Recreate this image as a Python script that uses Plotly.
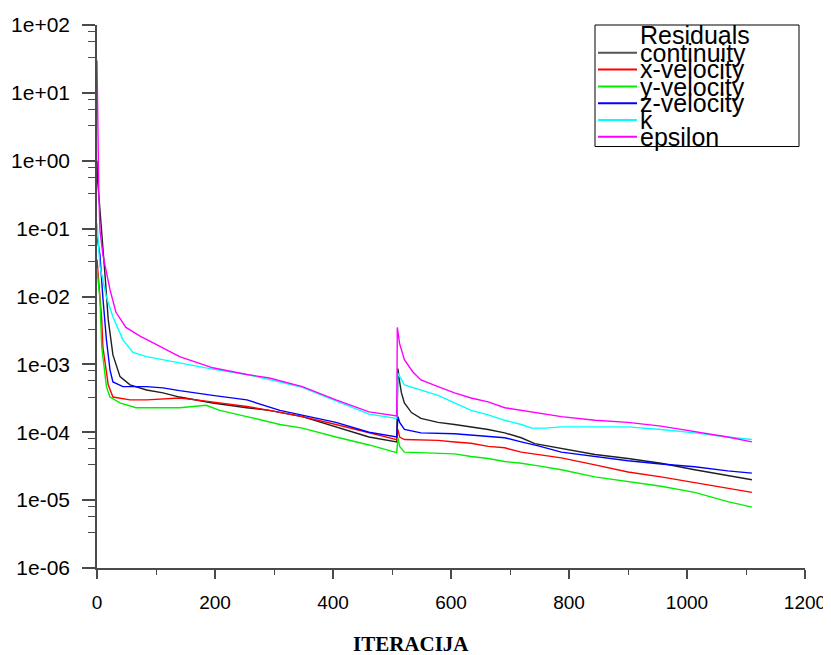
import plotly.graph_objects as go

# ---------------- data ----------------
series_names = ["continuity", "x-velocity", "y-velocity", "z-velocity", "k", "epsilon"]
series_colors = ["#202020", "#ff0000", "#00ee00", "#0000ff", "#00ffff", "#ff00ff"]

continuity_iter = [0, 1, 5, 8, 14, 19, 27, 39, 56, 84, 112, 140, 196, 254, 292, 348, 405, 461, 508,
                   510, 513, 516, 521, 533, 549, 578, 606, 634, 663, 691, 719, 742, 787, 844, 900,
                   956, 1013, 1069, 1110]
continuity_res = [1.0, 0.52, 0.19, 0.095, 0.0186, 0.0046, 1.38e-3, 6.6e-4, 5.0e-4, 4.2e-4, 3.8e-4,
                  3.3e-4, 2.7e-4, 2.3e-4, 2.1e-4, 1.7e-4, 1.2e-4, 8.5e-5, 7.2e-5,
                  8.7e-4, 5.5e-4, 3.8e-4, 2.7e-4, 1.95e-4, 1.6e-4, 1.4e-4, 1.3e-4, 1.2e-4, 1.1e-4,
                  9.8e-5, 8.3e-5, 6.8e-5, 5.8e-5, 4.7e-5, 4.1e-5, 3.5e-5, 2.8e-5, 2.3e-5, 2.0e-5]

xvel_iter = [0, 8, 10, 19, 27, 56, 84, 112, 140, 168, 196, 225, 254, 292, 348, 405, 461, 508,
             510, 513, 521, 578, 606, 634, 663, 691, 719, 748, 787, 844, 900, 956, 1013, 1069, 1110]
xvel_res = [3.5e-2, 4.6e-3, 1.8e-3, 5.0e-4, 3.3e-4, 3.0e-4, 3.0e-4, 3.1e-4, 3.2e-4, 3.0e-4, 2.8e-4,
            2.6e-4, 2.4e-4, 2.1e-4, 1.7e-4, 1.3e-4, 9.8e-5, 7.8e-5,
            1.1e-4, 8.5e-5, 7.8e-5, 7.6e-5, 7.2e-5, 6.9e-5, 6.2e-5, 5.9e-5, 5.1e-5, 4.7e-5, 4.2e-5,
            3.3e-5, 2.6e-5, 2.2e-5, 1.8e-5, 1.5e-5, 1.3e-5]

yvel_iter = [0, 5, 8, 16, 22, 39, 66, 84, 128, 140, 185, 208, 254, 310, 348, 405, 461, 508,
             510, 513, 521, 549, 606, 634, 663, 691, 719, 748, 787, 844, 900, 956, 1013, 1069, 1110]
yvel_res = [2.6e-2, 8.9e-3, 1.8e-3, 4.7e-4, 3.3e-4, 2.7e-4, 2.3e-4, 2.3e-4, 2.3e-4, 2.3e-4, 2.5e-4,
            2.1e-4, 1.7e-4, 1.3e-4, 1.15e-4, 8.5e-5, 6.5e-5, 5.0e-5,
            8.3e-5, 6.2e-5, 5.1e-5, 5.0e-5, 4.8e-5, 4.4e-5, 4.1e-5, 3.7e-5, 3.5e-5, 3.2e-5, 2.8e-5,
            2.2e-5, 1.9e-5, 1.6e-5, 1.3e-5, 9.5e-6, 7.9e-6]

zvel_iter = [0, 5, 10, 16, 22, 27, 44, 84, 112, 140, 196, 254, 310, 348, 405, 461, 508,
             510, 513, 521, 549, 606, 634, 663, 691, 719, 748, 787, 844, 900, 956, 1013, 1069, 1110]
zvel_res = [7.6e-2, 4.1e-2, 9.5e-3, 2.3e-3, 8.3e-4, 5.5e-4, 4.7e-4, 4.7e-4, 4.5e-4, 4.1e-4, 3.5e-4,
            3.0e-4, 2.1e-4, 1.8e-4, 1.4e-4, 1.0e-4, 8.5e-5,
            1.7e-4, 1.4e-4, 1.1e-4, 9.8e-5, 9.5e-5, 9.1e-5, 8.5e-5, 8.3e-5, 7.2e-5, 6.3e-5, 5.1e-5,
            4.4e-5, 3.8e-5, 3.4e-5, 3.1e-5, 2.7e-5, 2.5e-5]

k_iter = [0, 5, 16, 27, 44, 61, 84, 140, 196, 254, 310, 348, 405, 461, 508,
          510, 521, 549, 578, 606, 634, 663, 691, 719, 737, 760, 787, 844, 900, 956, 1013, 1069, 1110]
k_res = [0.12, 2.8e-2, 9.8e-3, 5.0e-3, 2.3e-3, 1.5e-3, 1.3e-3, 1.05e-3, 8.5e-4, 7.1e-4, 5.5e-4,
         4.6e-4, 2.9e-4, 1.85e-4, 1.6e-4,
         7.4e-4, 5.0e-4, 4.2e-4, 3.5e-4, 2.7e-4, 2.1e-4, 1.8e-4, 1.5e-4, 1.3e-4, 1.15e-4, 1.15e-4,
         1.2e-4, 1.2e-4, 1.2e-4, 1.1e-4, 9.8e-5, 8.5e-5, 7.8e-5]

eps_iter = [0, 1, 3, 5, 10, 22, 32, 49, 73, 101, 140, 196, 254, 292, 348, 405, 461, 508,
            509, 513, 521, 535, 549, 578, 606, 634, 663, 691, 719, 748, 787, 844, 900, 956, 1013,
            1069, 1110]
eps_res = [30, 3.4, 0.35, 0.095, 0.041, 0.0126, 5.9e-3, 3.5e-3, 2.6e-3, 1.95e-3, 1.3e-3, 8.9e-4,
           7.1e-4, 6.3e-4, 4.7e-4, 3.0e-4, 2.0e-4, 1.74e-4,
           3.5e-3, 2.0e-3, 1.17e-3, 7.8e-4, 5.9e-4, 4.7e-4, 3.8e-4, 3.2e-4, 2.8e-4, 2.3e-4, 2.1e-4,
           1.95e-4, 1.7e-4, 1.5e-4, 1.4e-4, 1.23e-4, 1.02e-4, 8.5e-5, 7.2e-5]

x_tick_vals = [0, 200, 400, 600, 800, 1000, 1200]
x_tick_text = ["0", "200", "400", "600", "800", "1000", "1200"]
y_tick_vals = [1e-6, 1e-5, 1e-4, 1e-3, 1e-2, 1e-1, 1e0, 1e1, 1e2]
y_tick_text = ["1e-06", "1e-05", "1e-04", "1e-03", "1e-02", "1e-01", "1e+00", "1e+01", "1e+02"]
legend_title = "Residuals"
x_title = "ITERACIJA"

# ---------------- figure ----------------
iters = [continuity_iter, xvel_iter, yvel_iter, zvel_iter, k_iter, eps_iter]
resid = [continuity_res, xvel_res, yvel_res, zvel_res, k_res, eps_res]

fig = go.Figure()
for name, col, xs, ys in zip(series_names, series_colors, iters, resid):
    fig.add_trace(go.Scatter(x=xs, y=ys, mode="lines", name=name,
                             line=dict(color=col, width=1.4), showlegend=False))

OFF = 8  # page body margin of the html page
W, H = 823, 647
L, R, T, B = 89, 26, 17, 87
pw, ph = W - L - R, H - T - B


def px(xp):
    return (xp - OFF - L) / pw


def py(yp):
    return (OFF + H - B - yp) / ph


minor_y = []
for d in range(-6, 2):
    for m in (3.3, 5.7, 8.0):
        minor_y.append(m * 10 ** d)

axis_col = "#4a4a4a"
fig.update_layout(
    width=W, height=H,
    margin=dict(l=L, r=R, t=T, b=B, autoexpand=False),
    paper_bgcolor="white", plot_bgcolor="white",
    font=dict(family="Liberation Sans, Arial", color="black"),
    xaxis=dict(range=[0, 1200], showgrid=False, zeroline=False, showline=True, automargin=False,
               linecolor=axis_col, linewidth=1.5, ticks="outside", ticklen=9,
               tickwidth=1.5, tickcolor=axis_col, tickmode="array",
               tickvals=x_tick_vals, ticktext=x_tick_text,
               tickfont=dict(size=19, family="Liberation Sans, Arial", color="black"),
               ticklabelstandoff=7,
               minor=dict(tickmode="array", tickvals=[100, 300, 500, 700, 900, 1100],
                          ticks="outside", ticklen=5, tickcolor=axis_col, tickwidth=1.2)),
    yaxis=dict(type="log", range=[-6, 2], showgrid=False, zeroline=False, showline=True,
               automargin=False,
               linecolor=axis_col, linewidth=1.5, ticks="outside", ticklen=13,
               tickwidth=1.5, tickcolor=axis_col, tickmode="array",
               tickvals=y_tick_vals, ticktext=y_tick_text,
               tickfont=dict(size=21, family="Liberation Sans, Arial", color="black"),
               ticklabelstandoff=8,
               minor=dict(tickmode="array", tickvals=minor_y,
                          ticks="outside", ticklen=7, tickcolor=axis_col, tickwidth=1.2)),
)

# x-axis title
fig.add_annotation(x=px(411), y=py(644), xref="paper", yref="paper", text="<b>" + x_title + "</b>",
                   showarrow=False, xanchor="center", yanchor="middle",
                   font=dict(family="Liberation Serif, Times New Roman", size=21, color="black"))

# custom legend box (overlapping text as in the reference)
fig.add_shape(type="rect", xref="paper", yref="paper", x0=px(595), x1=px(799), y0=py(146.5),
              y1=py(25), line=dict(color="black", width=1), fillcolor="rgba(0,0,0,0)", layer="above")
fig.add_annotation(x=px(638), y=py(35), xref="paper", yref="paper", text=legend_title,
                   showarrow=False, xanchor="left", yanchor="middle",
                   font=dict(size=25, family="Liberation Sans, Arial", color="black"))
row_y = [52.7, 69.5, 86.5, 103.3, 120.0, 136.7]
for name, col, yy in zip(series_names, series_colors, row_y):
    fig.add_shape(type="line", xref="paper", yref="paper", x0=px(598), x1=px(637), y0=py(yy),
                  y1=py(yy), line=dict(color=col if name != "continuity" else "#555555", width=2))
    fig.add_annotation(x=px(638), y=py(yy), xref="paper", yref="paper", text=name,
                       showarrow=False, xanchor="left", yanchor="middle",
                       font=dict(size=25, family="Liberation Sans, Arial", color="black"))

fig.write_html("out.html")
